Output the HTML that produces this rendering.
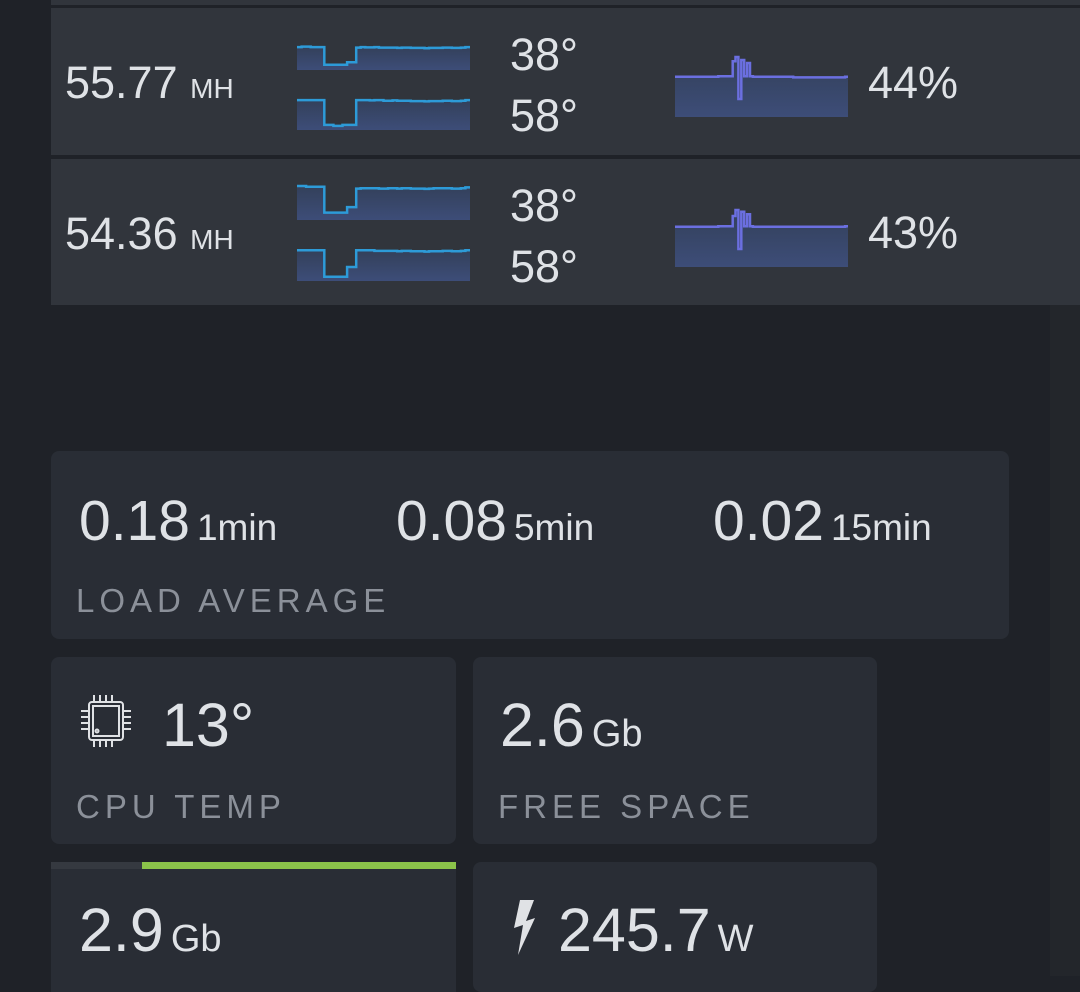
<!DOCTYPE html>
<html><head><meta charset="utf-8"><style>
body{margin:0;width:1080px;height:976px;overflow:hidden;background:#1f2228;font-family:"Liberation Sans",sans-serif;color:#dfe2e6;position:relative}
.abs{position:absolute}
.row{position:absolute;left:51px;width:1029px;background:#31353c}
.card{position:absolute;background:#292d35;border-radius:8px}
.t{position:absolute;white-space:nowrap;line-height:1}
.t span.u{margin-left:7px}
.lbl{color:#8b9099;font-size:33px;letter-spacing:5px}
</style></head><body>
<div class="abs" style="left:1050px;top:305px;width:30px;height:671px;background:#23262b"></div>
<div class="row" style="top:0;height:5px"></div>
<div class="row" style="top:8px;height:147px"></div>
<div class="row" style="top:159px;height:146px"></div>
<div class="t" style="left:65px;top:60px;font-size:45px">55.77 <span style="font-size:28px">MH</span></div>
<div class="t" style="left:65px;top:211px;font-size:45px">54.36 <span style="font-size:28px">MH</span></div>
<div class="t" style="left:510px;top:32px;font-size:45px">38°</div>
<div class="t" style="left:510px;top:93px;font-size:45px">58°</div>
<div class="t" style="left:510px;top:183px;font-size:45px">38°</div>
<div class="t" style="left:510px;top:244px;font-size:45px">58°</div>
<div class="t" style="left:868px;top:60px;font-size:45px">44%</div>
<div class="t" style="left:868px;top:210px;font-size:45px">43%</div>
<svg class="abs" id="spark" style="left:0;top:0" width="1080" height="310">
<defs><linearGradient id="g" x1="0" y1="0" x2="0" y2="1"><stop offset="0" stop-color="#33405a"/><stop offset="1" stop-color="#3d4d78"/></linearGradient></defs>
</svg>

<div class="card" style="left:51px;top:451px;width:958px;height:188px"></div>
<div class="t" style="left:79px;top:493px;font-size:57px">0.18<span class="u" style="font-size:37px">1min</span></div>
<div class="t" style="left:396px;top:493px;font-size:57px">0.08<span class="u" style="font-size:37px">5min</span></div>
<div class="t" style="left:713px;top:493px;font-size:57px">0.02<span class="u" style="font-size:37px">15min</span></div>
<div class="t lbl" style="left:76px;top:584px">LOAD AVERAGE</div>

<div class="card" style="left:51px;top:657px;width:405px;height:187px"></div>
<svg class="abs" style="left:77px;top:692px" width="58" height="58" viewBox="0 0 58 58" fill="none" stroke="#e0e2e5" stroke-width="2">
<rect x="12" y="10" width="34" height="38" rx="3"/><rect x="16" y="14" width="26" height="30"/><circle cx="20" cy="39" r="1.5"/>
<path d="M17 10V3M23 10V3M29 10V3M35 10V3M23 48V55M29 48V55M35 48V55M17 48V55M12 19H4M12 25H4M12 31H4M12 37H4M46 19H54M46 25H54M46 31H54M46 37H54"/></svg>
<div class="t" style="left:162px;top:695px;font-size:61px">13°</div>
<div class="t lbl" style="left:76px;top:790px">CPU TEMP</div>

<div class="card" style="left:473px;top:657px;width:404px;height:187px"></div>
<div class="t" style="left:500px;top:695px;font-size:61px">2.6<span class="u" style="font-size:38px">Gb</span></div>
<div class="t lbl" style="left:498px;top:790px">FREE SPACE</div>

<div class="card" style="left:51px;top:862px;width:405px;height:130px;border-radius:0"></div>
<div class="abs" style="left:51px;top:862px;width:91px;height:7px;background:#353940"></div>
<div class="abs" style="left:142px;top:862px;width:314px;height:7px;background:#8bc34a"></div>
<div class="t" style="left:79px;top:900px;font-size:61px">2.9<span class="u" style="font-size:38px">Gb</span></div>

<div class="card" style="left:473px;top:862px;width:404px;height:130px"></div>
<svg class="abs" style="left:512px;top:898px" width="30" height="58" viewBox="0 0 30 58"><path d="M8 2L2 30L11 27L6 57L23 20L14 23L22 2Z" fill="#e0e2e5"/></svg>
<div class="t" style="left:558px;top:900px;font-size:61px">245.7<span class="u" style="font-size:38px">W</span></div>

<script>
const tempA1=[0.88,0.9,0.9,0.88,0.88,0.88,0.2,0.2,0.2,0.2,0.2,0.3,0.3,0.86,0.88,0.87,0.87,0.88,0.86,0.86,0.86,0.86,0.85,0.86,0.86,0.85,0.85,0.85,0.84,0.85,0.85,0.85,0.86,0.86,0.85,0.85,0.86,0.88];
const tempB1=[0.88,0.88,0.88,0.88,0.88,0.88,0.15,0.15,0.12,0.12,0.15,0.15,0.15,0.88,0.88,0.88,0.87,0.88,0.88,0.86,0.86,0.87,0.86,0.86,0.86,0.85,0.85,0.85,0.84,0.85,0.85,0.85,0.86,0.86,0.85,0.85,0.86,0.88];
const tempA2=[0.92,0.92,0.9,0.9,0.9,0.9,0.2,0.2,0.2,0.2,0.2,0.35,0.35,0.85,0.86,0.86,0.86,0.86,0.85,0.85,0.86,0.86,0.85,0.86,0.86,0.85,0.85,0.85,0.84,0.85,0.86,0.86,0.86,0.86,0.85,0.85,0.86,0.88];
const tempB2=[0.88,0.88,0.88,0.88,0.88,0.88,0.12,0.12,0.12,0.12,0.12,0.4,0.4,0.88,0.88,0.88,0.88,0.86,0.86,0.86,0.86,0.86,0.85,0.86,0.86,0.85,0.85,0.85,0.84,0.85,0.85,0.85,0.86,0.86,0.85,0.85,0.86,0.88];
const fan1=[0.67,0.67,0.67,0.67,0.67,0.67,0.67,0.67,0.67,0.67,0.67,0.67,0.67,0.67,0.67,0.68,0.68,0.68,0.68,0.68,0.93,1.0,0.3,0.95,0.68,0.9,0.68,0.67,0.67,0.67,0.67,0.67,0.67,0.67,0.67,0.67,0.67,0.67,0.67,0.67,0.67,0.66,0.66,0.66,0.66,0.66,0.66,0.66,0.66,0.66,0.66,0.66,0.66,0.66,0.66,0.66,0.66,0.66,0.66,0.67];
const fan2=[0.67,0.67,0.67,0.67,0.67,0.67,0.67,0.67,0.67,0.67,0.67,0.67,0.67,0.67,0.67,0.68,0.68,0.68,0.68,0.68,0.85,0.95,0.3,0.92,0.68,0.88,0.68,0.67,0.67,0.67,0.67,0.67,0.67,0.67,0.67,0.67,0.67,0.67,0.67,0.67,0.67,0.67,0.67,0.67,0.67,0.67,0.67,0.67,0.67,0.67,0.67,0.67,0.67,0.67,0.67,0.67,0.67,0.67,0.67,0.68];
const svg=document.getElementById('spark');
function spark(vals,x0,w,y0,h,col,name){
  const n=vals.length, xs=i=>x0+i*w/n, ys=v=>y0+(1-v)*h;
  let d='M'+x0+' '+ys(vals[0]).toFixed(1)+' ';
  vals.forEach((v,i)=>{d+='V'+ys(v).toFixed(1)+' H'+xs(i+1).toFixed(1)+' ';});
  const a=document.createElementNS('http://www.w3.org/2000/svg','path');
  a.setAttribute('d',d+'V'+(y0+h)+' H'+x0+' Z');a.setAttribute('fill','url(#g)');
  
  
  svg.appendChild(a);
  const l=document.createElementNS('http://www.w3.org/2000/svg','path');
  l.setAttribute('d',d);l.setAttribute('fill','none');l.setAttribute('stroke',col);l.setAttribute('stroke-width','2.5');
  
  
  svg.appendChild(l);
}
spark(tempA1,297,173,44,26,'#2d9bd8','temp-chart-1a');
spark(tempB1,297,173,96,34,'#2d9bd8','temp-chart-1b');
spark(tempA2,297,173,183,37,'#2d9bd8','temp-chart-2a');
spark(tempB2,297,173,246,35,'#2d9bd8','temp-chart-2b');
spark(fan1,675,173,57,60,'#6b6fe0','fan-chart-1');
spark(fan2,675,173,207,60,'#6b6fe0','fan-chart-2');
</script>
</body></html>
